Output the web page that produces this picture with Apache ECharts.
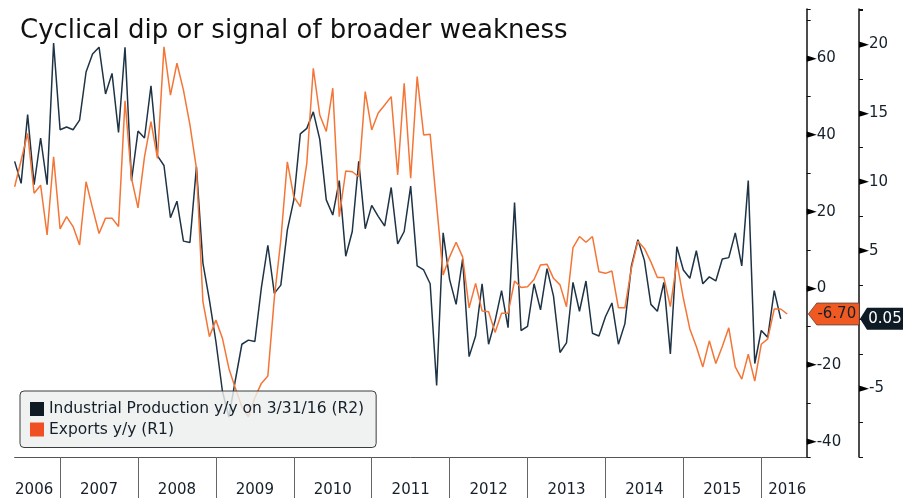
<!DOCTYPE html>
<html>
<head>
<meta charset="utf-8">
<script src="https://cdn.jsdelivr.net/npm/echarts@6/dist/echarts.min.js"></script>
<style>
  html, body { margin: 0; padding: 0; background: #fff; }
  #chart { width: 917px; height: 498px; }
</style>
</head>
<body>
<div id="chart"></div>
<script>
// monthly points, month-end, May 2006 .. Jul 2016 (last months are empty space)
const categories = []
for (let k = 0; k < 123; k++) {
  const m = 4 + k
  categories.push((2006 + Math.floor(m / 12)) + '-' + String(m % 12 + 1).padStart(2, '0'))
}

// Industrial Production y/y, right axis R2
const ipYoY = [
  11.5, 9.9, 14.9, 9.8, 13.2, 9.8, 20.1, 13.8, 14.0, 13.8,
  14.5, 18.0, 19.3, 19.8, 16.4, 17.9, 13.6, 19.8, 10.1, 13.7,
  13.2, 17.0, 11.9, 11.2, 7.4, 8.6, 5.7, 5.6, 11.1, 4.1,
  1.4, -1.6, -5.2, -7.1, -4.4, -1.8, -1.5, -1.6, 2.3, 5.4,
  1.9, 2.5, 6.5, 8.7, 13.5, 13.9, 15.1, 13.1, 8.7, 7.6,
  10.1, 4.6, 6.4, 11.5, 6.6, 8.3, 7.5, 6.8, 9.6, 5.5,
  6.4, 9.7, 3.9, 3.6, 2.6, -4.8, 6.3, 2.9, 1.1, 4.4,
  -2.7, -1.2, 2.6, -1.8, -0.1, 2.1, -0.6, 8.5, -0.8, -0.5,
  2.6, 0.7, 3.7, 1.7, -2.4, -1.7, 2.7, 0.6, 2.8, -1.0,
  -1.2, 0.2, 1.2, -1.8, -0.3, 3.9, 5.8, 4.3, 1.1, 0.6,
  2.7, -2.5, 5.3, 3.6, 3.0, 5.0, 2.6, 3.1, 2.8, 4.4,
  4.5, 6.3, 3.9, 10.1, -3.2, -0.8, -1.3, 2.1, 0.05
]

// Exports y/y, right axis R1
const exportsYoY = [
  26.5, 33.4, 40.4, 24.8, 26.9, 13.9, 34.3, 15.5, 18.7, 16.1,
  11.3, 27.8, 20.9, 14.3, 18.3, 18.3, 16.1, 48.9, 28.7, 21.0,
  34.3, 43.5, 33.9, 63.0, 50.4, 58.7, 51.7, 42.6, 31.3, -3.5,
  -12.6, -8.3, -13.0, -20.9, -26.1, -30.9, -33.5, -28.5, -24.8, -22.9,
  -2.5, 12.6, 33.0, 23.9, 21.3, 32.6, 57.4, 45.2, 40.9, 52.2,
  18.7, 30.6, 30.4, 29.1, 51.3, 41.3, 45.7, 47.8, 50.0, 29.6,
  53.5, 28.7, 55.2, 40.0, 40.2, 21.7, 3.5, 8.2, 12.0, 8.2,
  -5.1, 1.3, -5.9, -6.1, -11.5, -6.5, -6.5, 1.9, 0.2, 0.4,
  2.3, 6.1, 6.3, 2.6, 0.9, -4.8, 10.6, 13.5, 12.0, 13.5,
  4.3, 3.9, 4.5, -5.1, -5.1, 5.2, 12.3, 10.4, 6.9, 2.8,
  2.8, -4.8, 6.9, -2.6, -10.6, -15.2, -20.5, -13.7, -19.6, -15.2,
  -10.3, -20.5, -23.7, -17.2, -24.2, -14.6, -13.2, -5.4, -5.4, -6.70
]

const r1Labels = [-40, -20, 0, 20, 40, 60]
const r2Labels = [-5, 5, 10, 15, 20]
// where each year name sits (middle of the visible part of the year)
const yearLabelAt = ['2006-08', '2007-06', '2008-06', '2009-06', '2010-06', '2011-06',
  '2012-06', '2013-06', '2014-06', '2015-06', '2016-04']

const IP_NAME = 'Industrial Production y/y on 3/31/16 (R2)'
const EX_NAME = 'Exports y/y (R1)'
const FONT = 'DejaVu Sans'

const chart = echarts.init(document.getElementById('chart'))
const lastCat = categories[categories.length - 1]
const ipLast = ipYoY[ipYoY.length - 1]
const exLast = exportsYoY[exportsYoY.length - 1]

function axisLabelFor(list) {
  return {
    margin: 0,
    fontFamily: FONT,
    fontSize: 15,
    color: '#15202b',
    formatter: v => (list.includes(v) ? '{t|►}' + v : ''),
    rich: { t: { fontSize: 13, color: '#000', fontFamily: FONT } }
  }
}

chart.setOption({
  animation: false,
  textStyle: { fontFamily: FONT },
  title: {
    text: 'Cyclical dip or signal of broader weakness',
    left: 15, top: 13,
    textStyle: { fontFamily: FONT, fontSize: 26, fontWeight: 'normal', color: '#111' }
  },
  legend: {
    orient: 'vertical', left: 20, top: 391,
    padding: [10, 12, 10, 10],
    itemWidth: 14, itemHeight: 14, itemGap: 4.5,
    backgroundColor: 'rgba(236,239,238,0.82)',
    borderColor: '#3c3c3c', borderWidth: 1, borderRadius: 4,
    textStyle: { fontFamily: FONT, fontSize: 15.5, color: '#15202b' },
    data: [
      { name: IP_NAME, icon: 'rect', itemStyle: { color: '#0e1a24' } },
      { name: EX_NAME, icon: 'rect', itemStyle: { color: '#f04e23' } }
    ]
  },
  grid: { left: 14.65, right: 110.3, top: 9, bottom: 41 },
  xAxis: {
    type: 'category',
    data: categories,
    boundaryGap: false,
    axisLine: { onZero: false, lineStyle: { color: '#555', width: 1 } },
    axisTick: { interval: (i, v) => v.endsWith('-12'), length: 41, lineStyle: { color: '#666' } },
    axisLabel: {
      interval: (i, v) => yearLabelAt.includes(v),
      formatter: v => v.slice(0, 4),
      margin: 26, fontSize: 15, fontFamily: FONT, color: '#15202b'
    },
    splitLine: { show: false }
  },
  yAxis: [
    {
      type: 'value', position: 'right',
      min: -44, max: 72.85, splitNumber: 12,
      splitLine: { show: false },
      axisLine: { show: true, lineStyle: { color: '#111', width: 1.5 } },
      axisTick: { show: true, length: 4, lineStyle: { color: '#111' } },
      axisLabel: axisLabelFor(r1Labels)
    },
    {
      type: 'value', position: 'right', offset: 52.3,
      min: -10, max: 22.58, interval: 2.5,
      splitLine: { show: false },
      axisLine: { show: true, lineStyle: { color: '#111', width: 1.5 } },
      axisTick: { show: true, length: 4, lineStyle: { color: '#111' } },
      axisLabel: axisLabelFor(r2Labels)
    }
  ],
  series: [
    {
      name: IP_NAME, type: 'line', yAxisIndex: 1, data: ipYoY,
      symbol: 'none', z: 3,
      lineStyle: { color: '#1e3345', width: 1.5 },
      itemStyle: { color: '#0e1a24' },
      markPoint: {
        symbol: 'path://M0,11 L7,0 L43,0 L43,22 L7,22 Z',
        symbolSize: [43, 22], symbolKeepAspect: false,
        symbolOffset: [74.8, 0],
        itemStyle: { color: '#0e1a24' },
        label: { show: true, color: '#fff', fontSize: 15, fontFamily: FONT, offset: [3.5, 0],
          formatter: p => p.value.toFixed(2) },
        data: [{ coord: [lastCat, ipLast], value: ipLast }]
      }
    },
    {
      name: EX_NAME, type: 'line', yAxisIndex: 0, data: exportsYoY,
      symbol: 'none', z: 3,
      lineStyle: { color: '#f47536', width: 1.5 },
      itemStyle: { color: '#f04e23' },
      markPoint: {
        symbol: 'path://M0,11 L8.5,0 L51,0 L51,22 L8.5,22 Z',
        symbolSize: [51, 22], symbolKeepAspect: false,
        symbolOffset: [27.1, 0],
        itemStyle: { color: '#f05a22', borderColor: '#333', borderWidth: 0.6 },
        label: { show: true, color: '#15202b', fontSize: 15, fontFamily: FONT, offset: [3, 0],
          formatter: p => p.value.toFixed(2) },
        data: [{ coord: [lastCat, exLast], value: exLast }]
      }
    }
  ]
})
</script>
</body>
</html>
